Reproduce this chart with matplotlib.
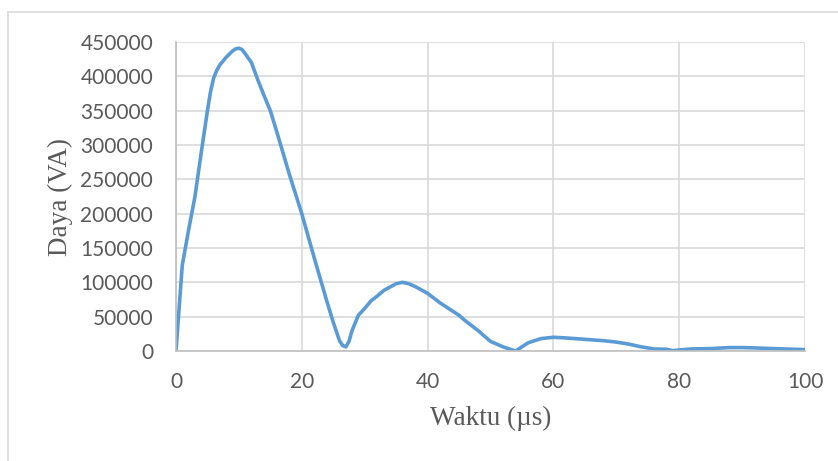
import matplotlib.pyplot as plt
from matplotlib.lines import Line2D

# Data
waktu = [0, 1, 2, 3, 4, 5, 5.5, 6, 6.5, 7, 8, 9, 9.5, 10, 10.5, 11, 12, 13,
         14, 15, 16, 18, 20, 22, 24, 25, 26, 26.5, 27, 27.5, 28, 29, 30, 31,
         32, 33, 34, 35, 36, 37, 38, 40, 42, 44, 45, 46, 48, 50, 52, 54, 56,
         58, 60, 62, 65, 68, 70, 72, 74, 76, 78, 79, 80, 82, 85, 88, 90, 92,
         95, 100]
daya = [0, 125000, 176000, 224000, 288000, 350000, 378000, 398000, 409000,
        417000, 428000, 437000, 440000, 441000, 439000, 433000, 420000,
        395000, 372000, 350000, 320000, 258000, 200000, 135000, 72000,
        42000, 15000, 8000, 6000, 14000, 30000, 52000, 62000, 73000, 80000,
        88000, 93000, 98000, 100000, 98000, 94000, 84000, 70000, 58000,
        52000, 44000, 30000, 14000, 6000, 0, 12000, 18000, 20000, 19000,
        17000, 15000, 13000, 10000, 6000, 3000, 2500, 500, 1500, 3000, 3500,
        5000, 5000, 4500, 3500, 2000]

x_ticks = [0, 20, 40, 60, 80, 100]
y_ticks = [0, 50000, 100000, 150000, 200000, 250000, 300000, 350000, 400000, 450000]

grid_col = "#d9d9d9"
text_col = "#595959"

fig = plt.figure(figsize=(8.38, 4.61), dpi=100)
ax = fig.add_axes([0.210, 0.2386, 0.7506, 0.6703])

ax.plot(waktu, daya, color="#5b9bd5", linewidth=2.6,
        solid_capstyle="round", solid_joinstyle="round")

ax.set_xlim(0, 100)
ax.set_ylim(0, 450000)
ax.set_xticks(x_ticks)
ax.set_yticks(y_ticks)
ax.set_xticklabels([str(t) for t in x_ticks])
ax.set_yticklabels([str(t) for t in y_ticks])
ax.grid(True, color=grid_col, linewidth=1.2)
ax.set_axisbelow(True)

for side in ["top", "right"]:
    ax.spines[side].set_visible(False)
for side in ["left", "bottom"]:
    ax.spines[side].set_color("#bfbfbf")
    ax.spines[side].set_linewidth(1.2)

ax.tick_params(length=0, labelsize=15, labelcolor=text_col)
ax.tick_params(axis="x", pad=15)
ax.tick_params(axis="y", pad=16.5)
for lbl in ax.get_xticklabels() + ax.get_yticklabels():
    lbl.set_family("Lato")

ax.set_xlabel("Waktu (µs)", family="Liberation Serif", fontsize=19.5, color=text_col, labelpad=10)
ax.set_ylabel("Daya (VA)", family="Liberation Serif", fontsize=19.5, color=text_col, labelpad=5)

# outer chart border (only top and left visible)
fig.add_artist(Line2D([8 / 838, 1], [1 - 12 / 461, 1 - 12 / 461],
                      transform=fig.transFigure, color=grid_col, linewidth=1.2))
fig.add_artist(Line2D([8 / 838, 8 / 838], [0, 1 - 12 / 461],
                      transform=fig.transFigure, color=grid_col, linewidth=1.2))

fig.savefig("out.png", dpi=100)
